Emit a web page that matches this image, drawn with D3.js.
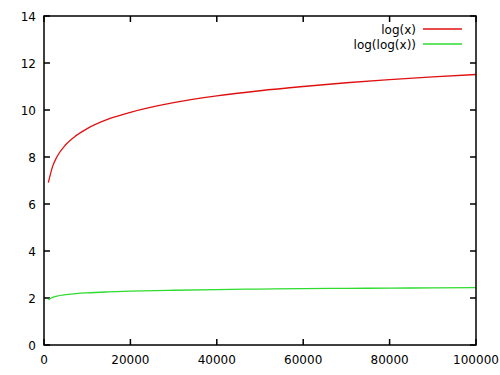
<!DOCTYPE html>
<html>
<head>
<meta charset="utf-8">
<script src="https://cdn.jsdelivr.net/npm/d3@7"></script>
<style>
  body { margin: 0; background: #fff; }
  text { font-family: "DejaVu Sans", sans-serif; font-size: 12px; fill: #000; }
</style>
</head>
<body>
<script>
// values
var xs = [1000, 2000, 3000, 5000, 7500, 10000, 15000, 20000, 30000, 40000, 50000, 60000, 70000, 80000, 90000, 100000];
var logx = [6.91, 7.60, 8.01, 8.52, 8.92, 9.21, 9.62, 9.90, 10.31, 10.60, 10.82, 11.00, 11.16, 11.29, 11.41, 11.51];
var loglogx = [1.93, 2.03, 2.08, 2.14, 2.19, 2.22, 2.26, 2.29, 2.33, 2.36, 2.38, 2.40, 2.41, 2.42, 2.43, 2.44];
var xTicks = [0, 20000, 40000, 60000, 80000, 100000];
var yTicks = [0, 2, 4, 6, 8, 10, 12, 14];
var seriesNames = ["log(x)", "log(log(x))"];
var seriesColors = ["#e01010", "#2edc2e"];

var svg = d3.select('body')
            .append('svg')
            .attr('width', 500)
            .attr('height', 375);

// plot box (note: "top" is a reserved window property, so use p* names)
var pLeft = 44, pRight = 476, pTop = 16, pBottom = 345;

var x = d3.scaleLinear().domain([0, 100000]).range([pLeft, pRight]);
var y = d3.scaleLinear().domain([0, 14]).range([pBottom, pTop]);

// inward ticks on all four sides
var tickLen = 6;
var g = svg.append('g').attr('stroke', '#000').attr('stroke-width', 1.5);
xTicks.forEach(function (t) {
  g.append('line').attr('x1', x(t)).attr('x2', x(t)).attr('y1', pBottom).attr('y2', pBottom - tickLen);
  g.append('line').attr('x1', x(t)).attr('x2', x(t)).attr('y1', pTop).attr('y2', pTop + tickLen);
});
yTicks.forEach(function (t) {
  g.append('line').attr('x1', pLeft).attr('x2', pLeft + tickLen).attr('y1', y(t)).attr('y2', y(t));
  g.append('line').attr('x1', pRight).attr('x2', pRight - tickLen).attr('y1', y(t)).attr('y2', y(t));
});

svg.selectAll('.xl').data(xTicks).enter().append('text')
   .attr('x', function (d) { return x(d); })
   .attr('y', 364)
   .attr('text-anchor', 'middle')
   .text(function (d) { return d; });

svg.selectAll('.yl').data(yTicks).enter().append('text')
   .attr('x', 36)
   .attr('y', function (d) { return y(d) + 4.5; })
   .attr('text-anchor', 'end')
   .text(function (d) { return d; });

// curves
var series = [logx, loglogx];
var line = d3.line()
             .x(function (d, i) { return x(xs[i]); })
             .y(function (d) { return y(d); })
             .curve(d3.curveMonotoneX);

series.forEach(function (s, k) {
  svg.append('path')
     .attr('d', line(s))
     .attr('fill', 'none')
     .attr('stroke', seriesColors[k])
     .attr('stroke-width', 1.3);
});

// legend
seriesNames.forEach(function (name, k) {
  var ly = 29 + k * 15;
  svg.append('text')
     .attr('x', 416)
     .attr('y', ly + 4.5)
     .attr('text-anchor', 'end')
     .text(name);
  svg.append('line')
     .attr('x1', 423).attr('x2', 462)
     .attr('y1', ly).attr('y2', ly)
     .attr('stroke', seriesColors[k])
     .attr('stroke-width', 1.3);
});

// frame
svg.append('rect')
   .attr('x', pLeft).attr('y', pTop)
   .attr('width', pRight - pLeft).attr('height', pBottom - pTop)
   .attr('fill', 'none')
   .attr('stroke', '#000')
   .attr('stroke-width', 1.5);
</script>
</body>
</html>
